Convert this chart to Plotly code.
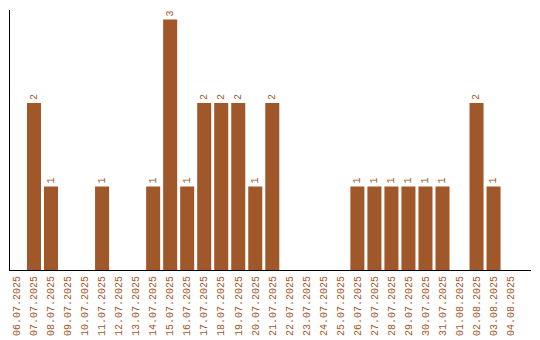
import plotly.graph_objects as go

dates = ["06.07.2025", "07.07.2025", "08.07.2025", "09.07.2025", "10.07.2025",
         "11.07.2025", "12.07.2025", "13.07.2025", "14.07.2025", "15.07.2025",
         "16.07.2025", "17.07.2025", "18.07.2025", "19.07.2025", "20.07.2025",
         "21.07.2025", "22.07.2025", "23.07.2025", "24.07.2025", "25.07.2025",
         "26.07.2025", "27.07.2025", "28.07.2025", "29.07.2025", "30.07.2025",
         "31.07.2025", "01.08.2025", "02.08.2025", "03.08.2025", "04.08.2025"]
counts = [0, 2, 1, 0, 0, 1, 0, 0, 1, 3,
          1, 2, 2, 2, 1, 2, 0, 0, 0, 0,
          1, 1, 1, 1, 1, 1, 0, 2, 1, 0]

color = "#A0572A"
labels = [str(v) if v else "" for v in counts]

fig = go.Figure(go.Bar(
    x=dates, y=counts, marker_color=color, marker_line_width=0,
    text=labels, textposition="outside", textangle=-90,
    textfont=dict(family="Liberation Mono", size=10, color=color),
    cliponaxis=False,
))
fig.update_layout(
    width=540, height=340,
    margin=dict(l=10, r=9, t=10, b=70),
    plot_bgcolor="white", paper_bgcolor="white",
    bargap=0.176, showlegend=False,
    font=dict(family="Liberation Mono", size=10, color=color),
)
fig.update_xaxes(type="category", range=[-0.41, 30.2], tickangle=-90, showline=True,
                 linecolor="black", linewidth=1, ticks="", showgrid=False,
                 automargin=False, ticklabelstandoff=1,
                 tickfont=dict(family="Liberation Mono", size=10, color=color))
fig.update_yaxes(range=[0, 3.115], showline=True, linecolor="black", linewidth=1,
                 showticklabels=False, ticks="", showgrid=False, zeroline=False,
                 automargin=False)
fig.write_html("out.html")
